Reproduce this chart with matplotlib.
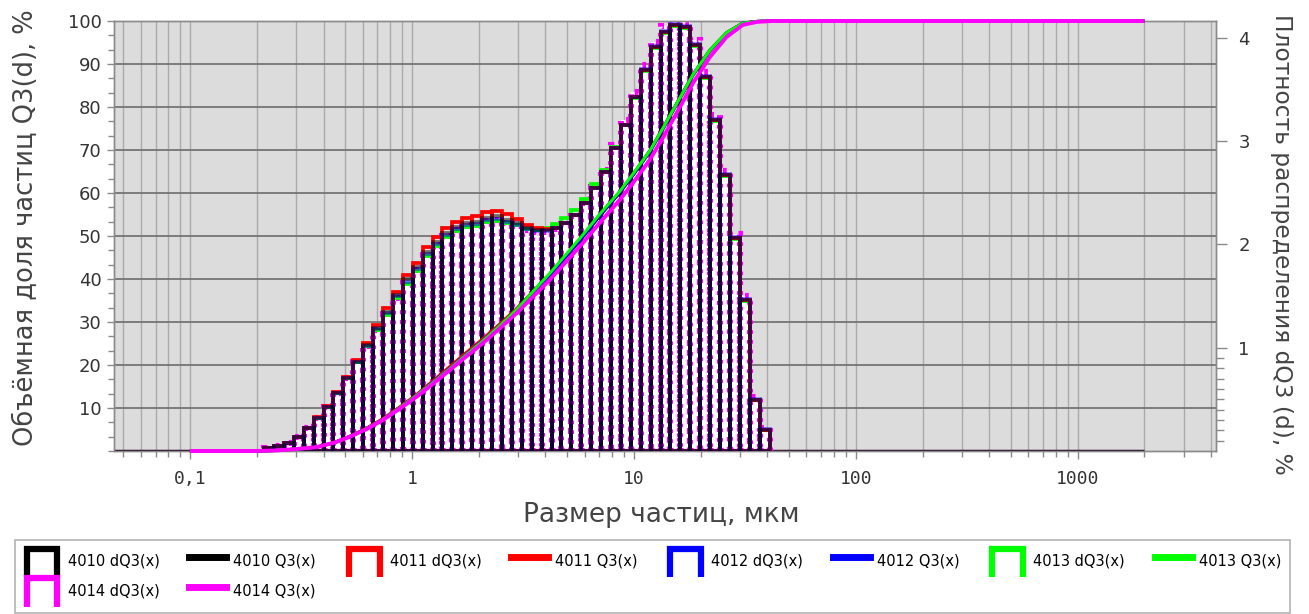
import numpy as np
import matplotlib
matplotlib.use("Agg")
import matplotlib.pyplot as plt
from matplotlib.legend_handler import HandlerBase
from matplotlib.lines import Line2D
from matplotlib.container import BarContainer
from matplotlib.ticker import FixedLocator, FuncFormatter, LogLocator, NullFormatter, AutoMinorLocator

# ---------------- data ----------------
series_names = ["4010", "4011", "4012", "4013", "4014"]
series_colors = ["#000000", "#ff0000", "#0000ff", "#00ff00", "#ff00ff"]

# channel centres of the density histogram, µm
size_centres = [0.227, 0.252, 0.279, 0.309, 0.342, 0.380, 0.421, 0.466, 0.517, 0.573,
                0.635, 0.704, 0.780, 0.864, 0.958, 1.062, 1.177, 1.305, 1.446, 1.603,
                1.776, 1.969, 2.182, 2.418, 2.681, 2.971, 3.293, 3.650, 4.045, 4.484,
                4.970, 5.508, 6.105, 6.766, 7.499, 8.312, 9.213, 10.21, 11.32, 12.54,
                13.90, 15.41, 17.08, 18.93, 20.98, 23.25, 25.77, 28.57, 31.66, 35.09, 38.89]

dq3_4010 = [0.03, 0.05, 0.08, 0.14, 0.22, 0.32, 0.43, 0.56, 0.71, 0.86, 1.03, 1.19, 1.35, 1.51, 1.66,
            1.78, 1.93, 2.02, 2.11, 2.17, 2.21, 2.22, 2.26, 2.27, 2.24, 2.21, 2.16, 2.14, 2.14, 2.16, 2.21,
            2.28, 2.40, 2.55, 2.70, 2.93, 3.16, 3.43, 3.69, 3.91, 4.06, 4.12, 4.10, 3.93, 3.62, 3.20, 2.67,
            2.06, 1.46, 0.49, 0.20]
dq3_4011 = [0.03, 0.05, 0.08, 0.14, 0.22, 0.33, 0.44, 0.57, 0.72, 0.88, 1.05, 1.22, 1.38, 1.54, 1.70,
            1.82, 1.97, 2.07, 2.16, 2.22, 2.26, 2.27, 2.31, 2.32, 2.29, 2.25, 2.19, 2.16, 2.15, 2.16, 2.21,
            2.28, 2.40, 2.55, 2.70, 2.93, 3.16, 3.43, 3.69, 3.91, 4.06, 4.12, 4.10, 3.93, 3.62, 3.20, 2.67,
            2.06, 1.46, 0.49, 0.20]
dq3_4012 = [0.03, 0.05, 0.08, 0.14, 0.22, 0.32, 0.43, 0.56, 0.71, 0.86, 1.02, 1.18, 1.34, 1.50, 1.64,
            1.76, 1.91, 2.00, 2.09, 2.15, 2.19, 2.20, 2.24, 2.25, 2.22, 2.19, 2.15, 2.13, 2.13, 2.16, 2.21,
            2.28, 2.40, 2.55, 2.70, 2.93, 3.16, 3.43, 3.70, 3.92, 4.07, 4.13, 4.11, 3.94, 3.63, 3.21, 2.68,
            2.07, 1.47, 0.50, 0.21]
dq3_4013 = [0.03, 0.05, 0.08, 0.14, 0.22, 0.32, 0.43, 0.56, 0.71, 0.86, 1.02, 1.17, 1.32, 1.48, 1.62,
            1.74, 1.89, 1.98, 2.07, 2.13, 2.17, 2.18, 2.22, 2.23, 2.21, 2.19, 2.15, 2.14, 2.16, 2.20, 2.26,
            2.33, 2.44, 2.58, 2.72, 2.94, 3.16, 3.42, 3.68, 3.90, 4.05, 4.11, 4.09, 3.92, 3.61, 3.19, 2.66,
            2.05, 1.45, 0.49, 0.20]
dq3_4014 = [0.03, 0.05, 0.08, 0.14, 0.22, 0.32, 0.43, 0.56, 0.71, 0.86, 1.02, 1.17, 1.33, 1.48, 1.63,
            1.75, 1.90, 1.99, 2.08, 2.14, 2.18, 2.19, 2.23, 2.24, 2.21, 2.18, 2.14, 2.12, 2.12, 2.15, 2.20,
            2.27, 2.40, 2.56, 2.72, 2.96, 3.20, 3.47, 3.74, 3.96, 4.11, 4.17, 4.15, 3.98, 3.67, 3.25, 2.71,
            2.10, 1.50, 0.52, 0.22]

# measuring range of the instrument (density is zero outside the bars), µm
measuring_range = [0.04, 2000]

# cumulative curve support points, µm
q3_sizes = [0.1, 0.2, 0.25, 0.3, 0.373, 0.45, 0.525, 0.62, 0.74, 0.88, 1.05, 1.25, 1.48, 1.76,
            2.09, 2.5, 2.97, 3.5, 4.18, 4.95, 5.9, 7.0, 8.65, 10.0, 11.8, 13.5, 15.6, 18.5,
            22.0, 26.2, 31.0, 36.0, 42.0, 2000]
q3_4010 = [0, 0, 0.15, 0.45, 0.9, 2.0, 3.4, 5.1, 7.4, 10.1, 13.0, 16.2, 19.4, 22.7, 25.9, 29.5, 33.1,
           37.0, 41.1, 45.4, 50.0, 54.8, 60.3, 64.6, 69.8, 75.0, 80.8, 87.6, 93.2, 97.3, 99.5, 99.9, 100, 100]
q3_4011 = [0, 0, 0.15, 0.45, 0.9, 2.0, 3.4, 5.2, 7.5, 10.2, 13.1, 16.4, 19.6, 22.9, 26.1, 29.6, 33.1,
           36.9, 40.9, 45.2, 49.8, 54.6, 60.1, 64.4, 69.6, 74.8, 80.6, 87.4, 93.0, 97.2, 99.5, 99.9, 100, 100]
q3_4012 = [0, 0, 0.15, 0.45, 0.9, 2.0, 3.3, 5.1, 7.3, 10.0, 12.9, 16.1, 19.2, 22.5, 25.7, 29.2, 32.8,
           36.7, 40.8, 45.2, 49.8, 54.6, 60.1, 64.4, 69.6, 74.8, 80.7, 87.5, 93.1, 97.2, 99.5, 99.9, 100, 100]
q3_4013 = [0, 0, 0.15, 0.45, 0.9, 2.0, 3.3, 5.1, 7.3, 10.0, 12.9, 16.0, 19.1, 22.4, 25.6, 29.2, 32.9,
           37.0, 41.3, 45.7, 50.3, 55.0, 60.4, 64.7, 69.8, 75.0, 80.8, 87.6, 93.2, 97.3, 99.5, 99.9, 100, 100]
q3_4014 = [0, 0, 0.15, 0.45, 0.9, 2.0, 3.3, 5.0, 7.2, 9.8, 12.6, 15.7, 18.8, 22.0, 25.1, 28.6, 32.1,
           35.8, 39.8, 44.0, 48.4, 53.0, 58.4, 62.6, 67.7, 72.8, 78.6, 85.6, 91.6, 96.3, 99.1, 99.8, 100, 100]

dq3_all = [dq3_4010, dq3_4011, dq3_4012, dq3_4013, dq3_4014]
q3_all = [q3_4010, q3_4011, q3_4012, q3_4013, q3_4014]

x_tick_values = [0.1, 1, 10, 100, 1000]
x_tick_labels = ["0,1", "1", "10", "100", "1000"]
left_ticks = [10, 20, 30, 40, 50, 60, 70, 80, 90, 100]
right_ticks = [1, 2, 3, 4]

# ---------------- figure ----------------
W, H = 1309, 614
fig = plt.figure(figsize=(W / 100, H / 100), dpi=100)
px = lambda x0, y0, x1, y1: [x0 / W, 1 - y1 / H, (x1 - x0) / W, (y1 - y0) / H]
ax = fig.add_axes(px(114, 21, 1216, 451))
ax.set_facecolor("#dcdcdc")
ax.set_xscale("log")
ax2 = ax.twinx()

# bin edges (geometric mid points between channel centres)
c = np.array(size_centres)
mids = np.sqrt(c[:-1] * c[1:])
edges = np.concatenate([[c[0] ** 2 / mids[0]], mids, [c[-1] ** 2 / mids[-1]]])
lefts = edges[:-1]
widths = np.diff(edges)

# zero baseline of the density
ax2.plot(measuring_range, [0, 0], color="#2a0a2a", lw=2.5, solid_capstyle="butt", zorder=1)

bar_handles = {}
# 4014 at the bottom: white body, dotted magenta outline wider than the others
bar_handles[4] = ax2.bar(lefts, dq3_all[4], width=widths, align="edge", facecolor="white",
                         edgecolor=series_colors[4], linewidth=4.4, linestyle=(0, (0.6, 1.0)),
                         zorder=2)
layer_style = {3: (2.7, 1.0), 1: (2.7, 1.0), 2: (2.7, 0.5), 0: (2.7, 0.5)}
for z, i in enumerate([3, 1, 2, 0]):
    lw, al = layer_style[i]
    bar_handles[i] = ax2.bar(lefts, dq3_all[i], width=widths, align="edge", facecolor="none",
                             edgecolor=series_colors[i], linewidth=lw, alpha=al, zorder=3 + z)

line_handles = {}
for i in [0, 1, 2, 3, 4]:
    ln, = ax2.plot(q3_sizes, q3_all[i], color=series_colors[i], lw=2.8 if i == 4 else 2.2,
                   transform=ax.transData, zorder=10 + i, clip_on=False,
                   solid_capstyle="butt")
    line_handles[i] = ln

# ---------------- axes styling ----------------
ax.set_xlim(0.0455, 4200)
ax.set_ylim(0, 100)
ax2.set_ylim(0, 4.162)

ax.xaxis.set_major_locator(FixedLocator(x_tick_values))
ax.xaxis.set_major_formatter(FuncFormatter(lambda v, p: dict(zip(x_tick_values, x_tick_labels)).get(v, "")))
ax.xaxis.set_minor_locator(LogLocator(base=10, subs=np.arange(2, 10), numticks=60))
ax.xaxis.set_minor_formatter(NullFormatter())

ax.yaxis.set_major_locator(FixedLocator(left_ticks))
ax.yaxis.set_minor_locator(AutoMinorLocator(3))
ax2.yaxis.set_major_locator(FixedLocator(right_ticks))
ax2.yaxis.set_minor_locator(FixedLocator([0.1, 0.2, 0.3, 0.4, 0.5, 0.6, 0.7, 0.8, 0.9]))

ax.grid(True, which="both", axis="x", color="#aaaaaa", lw=1.0)
ax.grid(True, which="major", axis="y", color="#747474", lw=1.3)
ax.set_axisbelow(True)

for a in (ax, ax2):
    for s in a.spines.values():
        s.set_color("#8a8a8a")
        s.set_linewidth(1.0)

ax.tick_params(axis="x", which="major", length=6, width=1, color="#8a8a8a", pad=8,
               labelsize=13, labelcolor="#333333")
ax.tick_params(axis="x", which="minor", length=4, width=1, color="#8a8a8a")
for t in ax.get_xticklabels():
    t.set_family("DejaVu Sans Mono")
ax.tick_params(axis="y", which="major", length=5, width=1, color="#8a8a8a", pad=4,
               labelsize=13, labelcolor="#333333")
ax.tick_params(axis="y", which="minor", length=4, width=1, color="#8a8a8a")
ax2.tick_params(axis="y", which="major", length=8, width=1, color="#8a8a8a", pad=8,
                labelsize=13, labelcolor="#333333")
ax2.tick_params(axis="y", which="minor", length=6, width=1, color="#8a8a8a")

fig.text(26 / W, 1 - 228 / H, "Объёмная доля частиц Q3(d), %", rotation=90,
         ha="center", va="center", fontsize=18.5, color="#444444")
fig.text(1281 / W, 1 - 244 / H, "Плотность распределения dQ3 (d), %", rotation=270,
         ha="center", va="center", fontsize=16.8, color="#444444")
fig.text(661 / W, 1 - 515 / H, "Размер частиц, мкм", ha="center", va="center",
         fontsize=19, color="#444444")


# ---------------- legend ----------------
class HandlerBarShape(HandlerBase):
    def create_artists(self, legend, orig_handle, xdescent, ydescent, width, height, fontsize, trans):
        col = orig_handle.patches[0].get_edgecolor()[:3]
        x0, x1 = -xdescent + 2, -xdescent + width - 2
        y0, y1 = -ydescent - 2, -ydescent + height
        ln = Line2D([x0, x0, x1, x1], [y0, y1, y1, y0], color=col, lw=4.5,
                    solid_joinstyle="miter", solid_capstyle="butt", transform=trans)
        return [ln]


handles, labels = [], []
for i, name in enumerate(series_names):
    handles.append(bar_handles[i])
    labels.append(f"{name} dQ3(x)")
    handles.append(Line2D([], [], color=series_colors[i], lw=5))
    labels.append(f"{name} Q3(x)")

# legend fills column-wise; reorder so that entries read row by row
order = [0, 8, 1, 9, 2, 3, 4, 5, 6, 7]
handles = [handles[k] for k in order]
labels = [labels[k] for k in order]

leg = fig.legend(handles, labels, ncol=8, loc="upper left",
                 bbox_to_anchor=(15 / W, 1 - 540 / H, 1275 / W, 0), mode="expand",
                 fontsize=10.5, frameon=True, fancybox=False, edgecolor="#a0a0a0",
                 handler_map={BarContainer: HandlerBarShape()},
                 handlelength=2.5, handleheight=2.3, handletextpad=0.5,
                 labelspacing=0.3, borderpad=0.6, borderaxespad=0, columnspacing=1.0)
leg.get_frame().set_linewidth(1.2)

fig.savefig("out.png", dpi=100)
